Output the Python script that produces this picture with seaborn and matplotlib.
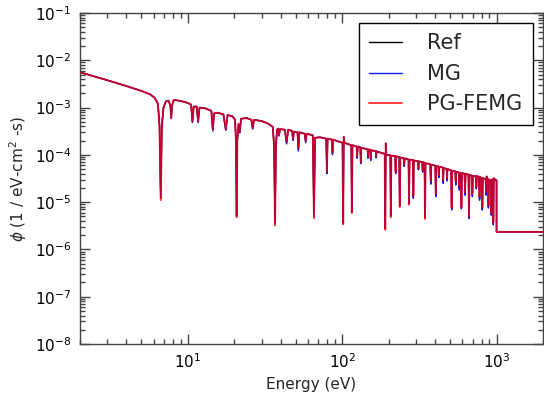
import matplotlib
matplotlib.use("Agg")
import matplotlib.pyplot as plt
import matplotlib.ticker as mticker
import seaborn as sns
import pandas as pd

# ---- data (energy in eV, flux in 1/eV-cm^2-s) ----
energy = [
    2.0, 2.5, 3.0, 4.0, 5.0, 5.7, 6.1, 6.4, 6.55, 6.67, 6.78, 6.95, 7.2, 7.5,
    7.7, 7.8, 7.9, 8.1, 9.0, 10.0, 10.5, 10.7, 10.9, 11.4, 11.65, 11.9, 13.0,
    14.2, 14.5, 14.8, 15.5, 17.0, 17.6, 18.1, 19.5, 20.2, 20.5, 20.7, 20.9,
    21.3, 21.7, 22.1, 24.0, 25.8, 26.3, 26.8, 30.0, 33.0, 35.5, 36.2, 36.7,
    37.2, 37.8, 38.5, 39.0, 39.5, 42.5, 43.6, 44.7, 47.3, 48.0, 48.7, 51.3,
    52.0, 52.7, 57.2, 58.0, 58.8, 64.5, 65.6, 66.7, 72.0, 78.8, 79.6, 80.4,
    85.8, 86.5, 87.2, 93.0, 100.5, 101.4, 102.3, 103.5, 114.5, 115.5, 116.5,
    124.0, 125.0, 126.0, 131.0, 132.0, 133.0, 146.0, 147.0, 148.0, 152.0,
    153.0, 154.0, 165.0, 166.0, 167.0, 188.5, 190.0, 191.5, 193.0, 205.0,
    206.5, 208.0, 220.5, 222.0, 223.5, 234.0, 236.0, 238.0, 250.0, 252.0,
    254.0, 269.0, 271.0, 273.0, 287.0, 289.0, 291.0, 310.0, 312.0, 314.0,
    330.0, 332.0, 334.0, 341.5, 344.0, 346.5, 372.0, 375.0, 378.0, 401.0,
    404.0, 407.0, 420.0, 423.0, 426.0, 448.0, 451.0, 454.0, 475.0, 478.0,
    481.0, 508.0, 512.0, 516.0, 540.0, 544.0, 548.0, 570.0, 574.0, 578.0,
    588.0, 592.0, 596.0, 620.0, 625.0, 630.0, 658.0, 663.0, 668.0, 692.0,
    697.0, 702.0, 735.0, 740.0, 745.0, 770.0, 776.0, 782.0, 803.0, 809.0,
    815.0, 850.0, 856.0, 862.0, 880.0, 886.0, 892.0, 918.0, 925.0, 932.0,
    946.0, 953.0, 960.0, 990.0, 1000.0, 1000.0, 2000.0,
]

ref_flux = [
    5.6e-3, 4.5e-3, 3.8e-3, 2.85e-3, 2.25e-3, 1.9e-3, 1.6e-3, 1.2e-3, 4.0e-4, 1.2e-5, 4.0e-4, 1.0e-3, 1.35e-3, 1.4e-3,
    1.1e-3, 6.0e-4, 1.1e-3, 1.45e-3, 1.38e-3, 1.25e-3, 1.15e-3, 5.0e-4, 1.05e-3, 1.05e-3, 5.0e-4, 1.0e-3, 9.6e-4,
    8.5e-4, 3.4e-4, 7.5e-4, 7.8e-4, 7.2e-4, 3.4e-4, 7.0e-4, 6.5e-4, 5.5e-4, 2.0e-4, 5.1e-6, 2.0e-4,
    4.5e-4, 3.0e-4, 5.8e-4, 6.0e-4, 5.5e-4, 3.6e-4, 5.5e-4, 5.2e-4, 4.6e-4, 3.9e-4, 1.5e-4, 3.5e-6,
    1.5e-4, 3.4e-4, 3.6e-4, 2.6e-4, 3.5e-4, 3.4e-4, 1.8e-4, 3.4e-4, 3.2e-4, 2.1e-4, 3.1e-4, 3.0e-4,
    1.3e-4, 3.0e-4, 2.8e-4, 1.9e-4, 2.8e-4, 2.6e-4, 4.9e-6, 2.3e-4, 2.35e-4, 2.2e-4, 4.2e-5, 2.2e-4,
    2.1e-4, 1.1e-4, 2.1e-4, 1.95e-4, 1.8e-4, 3.6e-6, 2.4e-4, 1.8e-4, 1.6e-4, 6.2e-6, 1.6e-4,
    1.5e-4, 9.0e-5, 1.5e-4, 1.45e-4, 6.8e-5, 1.42e-4, 1.3e-4, 9.0e-5, 1.3e-4, 1.28e-4,
    8.0e-5, 1.25e-4, 1.2e-4, 9.0e-5, 1.18e-4, 1.05e-4, 2.8e-6, 1.75e-4, 1.0e-4, 9.8e-5,
    5.1e-6, 9.6e-5, 9.4e-5, 4.2e-5, 9.3e-5, 9.0e-5, 8.3e-6, 8.8e-5, 8.5e-5, 6.0e-5,
    8.4e-5, 8.0e-5, 9.2e-6, 7.9e-5, 7.8e-5, 1.3e-5, 7.6e-5, 7.3e-5, 5.0e-5, 7.3e-5,
    7.0e-5, 4.5e-5, 7.0e-5, 6.8e-5, 4.7e-6, 6.7e-5, 6.3e-5, 2.6e-5, 6.2e-5, 5.9e-5,
    1.4e-5, 5.8e-5, 5.7e-5, 3.5e-5, 5.6e-5, 5.4e-5, 2.7e-5, 5.3e-5, 5.0e-5, 3.0e-5,
    5.0e-5, 4.7e-5, 7.2e-6, 4.6e-5, 4.5e-5, 2.5e-5, 4.4e-5, 4.2e-5, 2.0e-5, 4.2e-5,
    4.1e-5, 7.6e-6, 4.1e-5, 4.0e-5, 1.5e-5, 4.0e-5, 3.8e-5, 4.7e-6, 3.8e-5, 3.6e-5,
    1.4e-5, 3.6e-5, 3.5e-5, 2.0e-5, 3.6e-5, 3.4e-5, 1.2e-5, 3.4e-5, 3.2e-5, 7.2e-6,
    3.2e-5, 3.1e-5, 1.5e-5, 3.5e-5, 3.0e-5, 8.0e-6, 3.0e-5, 2.9e-5, 5.6e-6, 3.0e-5,
    3.0e-5, 3.5e-6, 3.2e-5, 2.9e-5, 2.9e-5, 2.35e-6, 2.35e-6,
]

mg_flux = [
    5.6e-3, 4.5e-3, 3.8e-3, 2.85e-3, 2.25e-3, 1.9e-3, 1.6e-3, 1.2e-3, 4.2e-4, 1.3e-5, 4.2e-4, 1.0e-3, 1.35e-3, 1.4e-3,
    1.1e-3, 5.8e-4, 1.1e-3, 1.45e-3, 1.38e-3, 1.25e-3, 1.15e-3, 4.8e-4, 1.05e-3, 1.05e-3, 4.8e-4, 1.0e-3, 9.6e-4,
    8.5e-4, 3.2e-4, 7.5e-4, 7.8e-4, 7.2e-4, 3.3e-4, 7.0e-4, 6.5e-4, 5.5e-4, 2.1e-4, 5.5e-6, 2.1e-4,
    4.5e-4, 2.9e-4, 5.8e-4, 6.0e-4, 5.5e-4, 3.5e-4, 5.5e-4, 5.2e-4, 4.6e-4, 3.9e-4, 1.6e-4, 3.8e-6,
    1.6e-4, 3.4e-4, 3.6e-4, 2.5e-4, 3.5e-4, 3.4e-4, 1.7e-4, 3.4e-4, 3.2e-4, 2.0e-4, 3.1e-4, 3.0e-4,
    1.2e-4, 3.0e-4, 2.8e-4, 1.8e-4, 2.8e-4, 2.6e-4, 5.3e-6, 2.3e-4, 2.35e-4, 2.2e-4, 4.0e-5, 2.2e-4,
    2.1e-4, 1.0e-4, 2.1e-4, 1.95e-4, 1.8e-4, 3.9e-6, 2.4e-4, 1.8e-4, 1.6e-4, 6.6e-6, 1.6e-4,
    1.5e-4, 8.5e-5, 1.5e-4, 1.45e-4, 6.5e-5, 1.42e-4, 1.3e-4, 8.5e-5, 1.3e-4, 1.28e-4,
    7.6e-5, 1.25e-4, 1.2e-4, 8.6e-5, 1.18e-4, 1.05e-4, 3.0e-6, 1.75e-4, 1.0e-4, 9.8e-5,
    5.4e-6, 9.6e-5, 9.4e-5, 4.0e-5, 9.3e-5, 9.0e-5, 8.8e-6, 8.8e-5, 8.5e-5, 5.7e-5,
    8.4e-5, 8.0e-5, 9.6e-6, 7.9e-5, 7.8e-5, 1.2e-5, 7.6e-5, 7.3e-5, 4.8e-5, 7.3e-5,
    7.0e-5, 4.3e-5, 7.0e-5, 6.8e-5, 5.0e-6, 6.7e-5, 6.3e-5, 2.4e-5, 6.2e-5, 5.9e-5,
    1.3e-5, 5.8e-5, 5.7e-5, 3.3e-5, 5.6e-5, 5.4e-5, 2.5e-5, 5.3e-5, 5.0e-5, 2.8e-5,
    5.0e-5, 4.7e-5, 6.8e-6, 4.6e-5, 4.5e-5, 2.3e-5, 4.4e-5, 4.2e-5, 1.8e-5, 4.2e-5,
    4.1e-5, 7.2e-6, 4.1e-5, 4.0e-5, 1.4e-5, 4.0e-5, 3.8e-5, 4.5e-6, 3.8e-5, 3.6e-5,
    1.3e-5, 3.6e-5, 3.5e-5, 1.9e-5, 3.6e-5, 3.4e-5, 1.1e-5, 3.4e-5, 3.2e-5, 6.8e-6,
    3.2e-5, 3.1e-5, 1.4e-5, 3.5e-5, 3.0e-5, 7.5e-6, 3.0e-5, 2.9e-5, 5.3e-6, 3.0e-5,
    3.0e-5, 3.3e-6, 3.2e-5, 2.9e-5, 2.9e-5, 2.35e-6, 2.35e-6,
]

femg_flux = [
    5.6e-3, 4.5e-3, 3.8e-3, 2.85e-3, 2.25e-3, 1.9e-3, 1.6e-3, 1.2e-3, 3.8e-4, 1.1e-5, 3.8e-4, 1.0e-3, 1.35e-3, 1.4e-3,
    1.1e-3, 6.1e-4, 1.1e-3, 1.45e-3, 1.38e-3, 1.25e-3, 1.15e-3, 5.1e-4, 1.05e-3, 1.05e-3, 5.1e-4, 1.0e-3, 9.6e-4,
    8.5e-4, 3.5e-4, 7.5e-4, 7.8e-4, 7.2e-4, 3.5e-4, 7.0e-4, 6.5e-4, 5.5e-4, 1.9e-4, 4.8e-6, 1.9e-4,
    4.5e-4, 3.1e-4, 5.8e-4, 6.0e-4, 5.5e-4, 3.7e-4, 5.5e-4, 5.2e-4, 4.6e-4, 3.9e-4, 1.4e-4, 3.2e-6,
    1.4e-4, 3.4e-4, 3.6e-4, 2.7e-4, 3.5e-4, 3.4e-4, 1.9e-4, 3.4e-4, 3.2e-4, 2.2e-4, 3.1e-4, 3.0e-4,
    1.4e-4, 3.0e-4, 2.8e-4, 2.0e-4, 2.8e-4, 2.6e-4, 4.6e-6, 2.3e-4, 2.35e-4, 2.2e-4, 4.4e-5, 2.2e-4,
    2.1e-4, 1.15e-4, 2.1e-4, 1.95e-4, 1.8e-4, 3.4e-6, 2.4e-4, 1.8e-4, 1.6e-4, 5.9e-6, 1.6e-4,
    1.5e-4, 9.4e-5, 1.5e-4, 1.45e-4, 7.0e-5, 1.42e-4, 1.3e-4, 9.3e-5, 1.3e-4, 1.28e-4,
    8.3e-5, 1.25e-4, 1.2e-4, 9.3e-5, 1.18e-4, 1.05e-4, 2.6e-6, 1.75e-4, 1.0e-4, 9.8e-5,
    4.8e-6, 9.6e-5, 9.4e-5, 4.4e-5, 9.3e-5, 9.0e-5, 7.9e-6, 8.8e-5, 8.5e-5, 6.2e-5,
    8.4e-5, 8.0e-5, 8.8e-6, 7.9e-5, 7.8e-5, 1.4e-5, 7.6e-5, 7.3e-5, 5.2e-5, 7.3e-5,
    7.0e-5, 4.7e-5, 7.0e-5, 6.8e-5, 4.4e-6, 6.7e-5, 6.3e-5, 2.8e-5, 6.2e-5, 5.9e-5,
    1.5e-5, 5.8e-5, 5.7e-5, 3.7e-5, 5.6e-5, 5.4e-5, 2.9e-5, 5.3e-5, 5.0e-5, 3.2e-5,
    5.0e-5, 4.7e-5, 7.6e-6, 4.6e-5, 4.5e-5, 2.7e-5, 4.4e-5, 4.2e-5, 2.2e-5, 4.2e-5,
    4.1e-5, 8.0e-6, 4.1e-5, 4.0e-5, 1.6e-5, 4.0e-5, 3.8e-5, 4.9e-6, 3.8e-5, 3.6e-5,
    1.5e-5, 3.6e-5, 3.5e-5, 2.1e-5, 3.6e-5, 3.4e-5, 1.3e-5, 3.4e-5, 3.2e-5, 7.6e-6,
    3.2e-5, 3.1e-5, 1.6e-5, 3.5e-5, 3.0e-5, 8.5e-6, 3.0e-5, 2.9e-5, 5.9e-6, 3.0e-5,
    3.0e-5, 3.7e-6, 3.2e-5, 2.9e-5, 2.9e-5, 2.35e-6, 2.35e-6,
]

x_ticks = [10, 100, 1000]
y_ticks = [1e-8, 1e-7, 1e-6, 1e-5, 1e-4, 1e-3, 1e-2, 1e-1]

series_names = ["Ref", "MG", "PG-FEMG"]
series_colors = {"Ref": "black", "MG": "blue", "PG-FEMG": "red"}
series_alpha = {"Ref": 1.0, "MG": 0.9, "PG-FEMG": 0.75}
series_width = {"Ref": 1.0, "MG": 1.0, "PG-FEMG": 1.4}

# ---- style ----
sns.set_style("ticks")
plt.rcParams["font.family"] = ["DejaVu Sans"]
plt.rcParams.update({
    "xtick.direction": "in", "ytick.direction": "in",
    "xtick.top": True, "ytick.right": True,
    "xtick.major.size": 7, "ytick.major.size": 7,
    "xtick.minor.size": 3.5, "ytick.minor.size": 3.5,
    "xtick.major.width": 1.0, "ytick.major.width": 1.0,
    "xtick.minor.width": 1.0, "ytick.minor.width": 1.0,
    "axes.edgecolor": "#444444", "xtick.color": "#444444", "ytick.color": "#444444",
    "xtick.labelcolor": "black", "ytick.labelcolor": "black",
    "axes.linewidth": 1.0,
})

fig = plt.figure(figsize=(5.44, 3.98), dpi=100)
ax = fig.add_axes([80 / 544, 1 - 344 / 398, 463 / 544, 331 / 398])

fluxes = {"Ref": ref_flux, "MG": mg_flux, "PG-FEMG": femg_flux}
for name in series_names:
    df = pd.DataFrame({"energy": energy, "flux": fluxes[name]})
    sns.lineplot(data=df, x="energy", y="flux", ax=ax, sort=False,
                 estimator=None, color=series_colors[name],
                 alpha=series_alpha[name], linewidth=series_width[name],
                 label=name)

ax.set_xscale("log")
ax.set_yscale("log")
ax.set_xlim(2, 2000)
ax.set_ylim(1e-8, 1e-1)
ax.xaxis.set_major_locator(mticker.FixedLocator(x_ticks))
ax.yaxis.set_major_locator(mticker.FixedLocator(y_ticks))
ax.xaxis.set_major_formatter(mticker.LogFormatterSciNotation())
ax.yaxis.set_major_formatter(mticker.LogFormatterSciNotation())
ax.xaxis.set_minor_formatter(mticker.NullFormatter())
ax.yaxis.set_minor_formatter(mticker.NullFormatter())
ax.tick_params(axis="both", which="both", labelsize=11, pad=6)
ax.tick_params(axis="both", which="both", top=True, right=True)
ax.set_xlabel("Energy (eV)", fontsize=11)
ax.set_ylabel(r"$\phi$ (1 / eV-cm$^2$ -s)", fontsize=11)

leg = ax.legend(loc="upper right", fontsize=15, frameon=True, fancybox=False,
                handlelength=1.6, handletextpad=1.2, borderpad=0.5,
                labelspacing=0.5, borderaxespad=0.0,
                bbox_to_anchor=((533 - 80) / 463, (344 - 23) / 331))
leg.get_frame().set_edgecolor("black")
leg.get_frame().set_linewidth(1.0)
leg.get_frame().set_alpha(1.0)

fig.savefig("out.png", dpi=100)
